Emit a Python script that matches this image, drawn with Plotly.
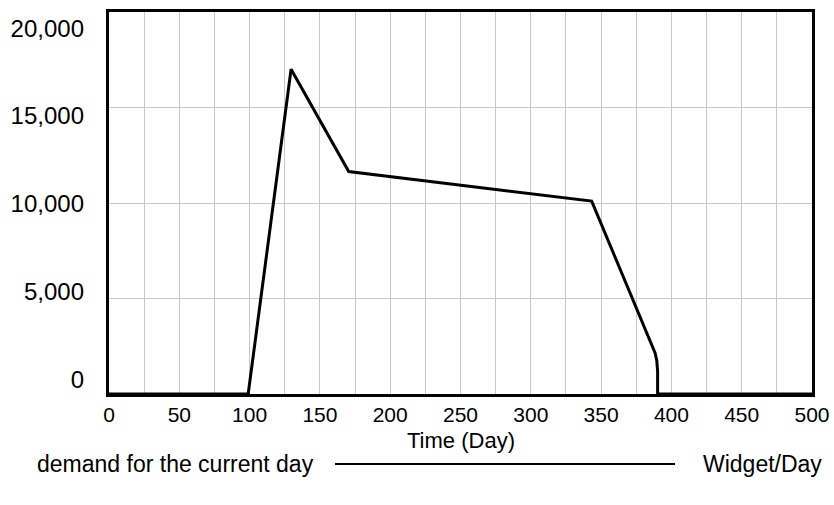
import plotly.graph_objects as go

# Data
time_day = [0, 99, 129.5, 170.5, 343.3, 388.4, 389.6, 390.2, 390.2, 500]
demand = [0, 0, 17000, 11650, 10100, 2150, 1750, 1200, 0, 0]

x_ticks = [0, 50, 100, 150, 200, 250, 300, 350, 400, 450, 500]
y_ticks = [0, 5000, 10000, 15000, 20000]
y_tick_labels = ["0", "5,000", "10,000", "15,000", "20,000"]

series_name = "demand for the current day"
unit_label = "Widget/Day"
x_title = "Time (Day)"

FONT = "Liberation Sans, Arial, sans-serif"
GRID = "#c8c8c8"

fig = go.Figure()
fig.add_trace(go.Scatter(
    x=time_day, y=demand, mode="lines",
    line=dict(color="black", width=3),
    name=series_name, showlegend=False,
    xaxis="x", yaxis="y",
))
# invisible helper so the label axis is drawn
fig.add_trace(go.Scatter(x=[None], y=[None], xaxis="x", yaxis="y2",
                         showlegend=False, hoverinfo="skip"))

fig.update_layout(
    width=834, height=505,
    margin=dict(l=109, r=22, t=12, b=111, autoexpand=False),
    paper_bgcolor="white", plot_bgcolor="white",
    font=dict(family=FONT, size=24, color="black"),
    xaxis=dict(
        range=[0, 500], tickvals=x_ticks,
        showgrid=True, gridcolor=GRID, gridwidth=1,
        minor=dict(dtick=25, tick0=0, showgrid=True, gridcolor=GRID, gridwidth=1),
        showline=True, linecolor="black", linewidth=3, mirror=True,
        zeroline=False, ticks="", ticklabelstandoff=0,
        tickfont=dict(size=21), automargin=False,
    ),
    yaxis=dict(
        range=[0, 20000], tickvals=y_ticks,
        showgrid=True, gridcolor=GRID, gridwidth=1,
        showline=True, linecolor="black", linewidth=3, mirror=True,
        zeroline=False, ticks="", showticklabels=False, automargin=False,
    ),
    yaxis2=dict(
        overlaying="y", side="left", anchor="x",
        range=[-824, 20916], tickvals=y_ticks, ticktext=y_tick_labels,
        showgrid=False, zeroline=False, showline=False, ticks="",
        ticklabelstandoff=24, tickfont=dict(size=24), automargin=False,
    ),
)

# axis title placed to match the reference spacing
fig.add_annotation(xref="paper", yref="paper", x=0.5, y=(394 - 440) / 382,
                   xanchor="center", yanchor="middle", showarrow=False,
                   text=x_title, font=dict(size=22))

# custom legend row: name — line — unit
LEG_Y = (394 - 464) / 382
fig.add_annotation(xref="paper", yref="paper", x=(35 - 109) / 703, y=LEG_Y,
                   xanchor="left", yanchor="middle", showarrow=False,
                   text=series_name, font=dict(size=23))
fig.add_annotation(xref="paper", yref="paper", x=(824 - 109) / 703, y=LEG_Y,
                   xanchor="right", yanchor="middle", showarrow=False,
                   text=unit_label, font=dict(size=23))
fig.add_shape(type="line", xref="paper", yref="paper",
              x0=(335 - 109) / 703, x1=(675 - 109) / 703,
              y0=LEG_Y, y1=LEG_Y, line=dict(color="black", width=2))

fig.write_html(
    "out.html",
    config={"displayModeBar": False},
    post_script="document.body.style.margin='0';document.body.style.overflow='hidden';",
)
